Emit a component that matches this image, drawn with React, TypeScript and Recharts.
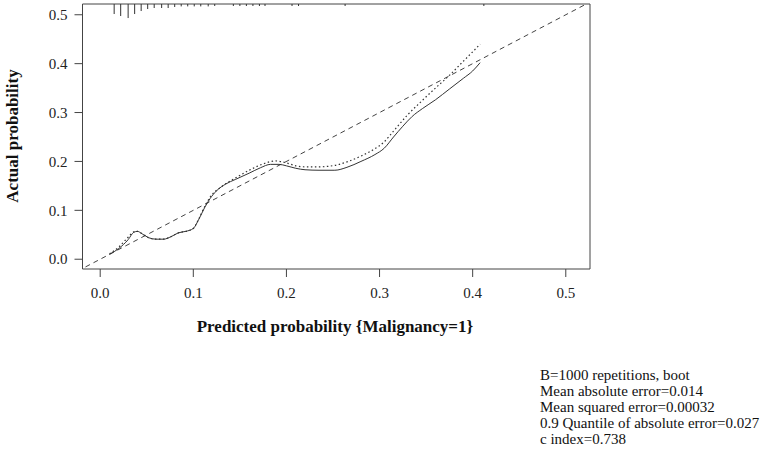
import React from 'react';
import { ComposedChart, Line, XAxis, YAxis, ReferenceLine, ReferenceArea } from 'recharts';

const serif = '"Liberation Serif", "Times New Roman", serif';

// axis ticks
const xTicks = [0, 0.1, 0.2, 0.3, 0.4, 0.5];
const yTicks = [0, 0.1, 0.2, 0.3, 0.4, 0.5];

// bias-corrected calibration curve (solid)
const biasCorrected = [
  { x: 0.010, y: 0.010 }, { x: 0.020, y: 0.022 }, { x: 0.030, y: 0.040 }, { x: 0.036, y: 0.055 },
  { x: 0.040, y: 0.057 }, { x: 0.045, y: 0.052 }, { x: 0.052, y: 0.044 }, { x: 0.060, y: 0.041 },
  { x: 0.068, y: 0.041 }, { x: 0.076, y: 0.046 }, { x: 0.084, y: 0.054 }, { x: 0.092, y: 0.057 },
  { x: 0.100, y: 0.063 }, { x: 0.106, y: 0.082 }, { x: 0.112, y: 0.105 }, { x: 0.118, y: 0.124 },
  { x: 0.125, y: 0.140 }, { x: 0.135, y: 0.154 }, { x: 0.145, y: 0.163 }, { x: 0.160, y: 0.176 },
  { x: 0.172, y: 0.187 }, { x: 0.183, y: 0.194 }, { x: 0.192, y: 0.194 }, { x: 0.200, y: 0.191 },
  { x: 0.210, y: 0.186 }, { x: 0.220, y: 0.183 }, { x: 0.235, y: 0.182 }, { x: 0.252, y: 0.182 },
  { x: 0.265, y: 0.188 }, { x: 0.280, y: 0.200 }, { x: 0.295, y: 0.214 }, { x: 0.305, y: 0.227 },
  { x: 0.315, y: 0.250 }, { x: 0.325, y: 0.272 }, { x: 0.335, y: 0.292 }, { x: 0.346, y: 0.308 },
  { x: 0.360, y: 0.326 }, { x: 0.375, y: 0.348 }, { x: 0.390, y: 0.370 }, { x: 0.400, y: 0.385 },
  { x: 0.408, y: 0.402 },
];

// apparent calibration curve (dotted)
const apparent = [
  { x: 0.010, y: 0.011 }, { x: 0.020, y: 0.025 }, { x: 0.030, y: 0.045 }, { x: 0.036, y: 0.056 },
  { x: 0.040, y: 0.057 }, { x: 0.045, y: 0.052 }, { x: 0.052, y: 0.044 }, { x: 0.060, y: 0.041 },
  { x: 0.068, y: 0.041 }, { x: 0.076, y: 0.046 }, { x: 0.084, y: 0.054 }, { x: 0.092, y: 0.057 },
  { x: 0.100, y: 0.063 }, { x: 0.106, y: 0.083 }, { x: 0.112, y: 0.107 }, { x: 0.118, y: 0.127 },
  { x: 0.130, y: 0.148 }, { x: 0.145, y: 0.166 }, { x: 0.160, y: 0.182 }, { x: 0.175, y: 0.195 },
  { x: 0.188, y: 0.201 }, { x: 0.200, y: 0.197 }, { x: 0.210, y: 0.191 }, { x: 0.220, y: 0.189 },
  { x: 0.235, y: 0.189 }, { x: 0.252, y: 0.192 }, { x: 0.265, y: 0.199 }, { x: 0.280, y: 0.211 },
  { x: 0.295, y: 0.226 }, { x: 0.305, y: 0.240 }, { x: 0.315, y: 0.262 }, { x: 0.330, y: 0.295 },
  { x: 0.345, y: 0.323 }, { x: 0.360, y: 0.350 }, { x: 0.375, y: 0.376 }, { x: 0.390, y: 0.405 },
  { x: 0.403, y: 0.430 }, { x: 0.408, y: 0.440 },
];

// ideal line
const ideal = [{ x: -0.05, y: -0.05 }, { x: 0.6, y: 0.6 }];

// rug of predicted probabilities along the top
const rugX = [
  0.015, 0.022, 0.030, 0.037, 0.044, 0.051, 0.058, 0.066, 0.073, 0.080, 0.087, 0.094, 0.101,
  0.108, 0.116, 0.123, 0.143, 0.150, 0.157, 0.164, 0.171, 0.177, 0.206, 0.213, 0.263, 0.412,
];
const rugFreq = [5, 6, 7, 5, 3.5, 2.5, 2, 2, 2, 1.5, 1.2, 1.2, 1.2, 1.2, 1.2, 1, 1, 1, 1, 1, 1, 1, 1, 1, 1, 1];

const stats = [
  'B=1000 repetitions, boot',
  'Mean absolute error=0.014',
  'Mean squared error=0.00032',
  '0.9 Quantile of absolute error=0.027',
  'c index=0.738',
];

const X_DOMAIN: [number, number] = [-0.019, 0.526];
const Y_DOMAIN: [number, number] = [-0.02, 0.522];
const RUG_UNIT = 0.0041;

const XTick = (props: any) => {
  const { x, y, payload } = props;
  return (
    <text x={x} y={y} dy="0.71em" textAnchor="middle" fontFamily={serif} fontSize={15} fill="#222">
      {Number(payload.value).toFixed(1)}
    </text>
  );
};

const YTick = (props: any) => {
  const { x, y, payload } = props;
  return (
    <text x={x} y={y} dy="0.35em" textAnchor="end" fontFamily={serif} fontSize={15} fill="#222">
      {Number(payload.value).toFixed(1)}
    </text>
  );
};

export default function App() {
  return (
    <div style={{ position: 'absolute', left: 0, top: 0, width: 760, height: 449, background: '#fff', fontFamily: serif }}>
      <ComposedChart width={760} height={449} margin={{ top: 4, right: 170, bottom: 140, left: 12.5 }}>
        <XAxis
          type="number"
          dataKey="x"
          domain={X_DOMAIN}
          ticks={xTicks}
          allowDataOverflow
          height={40}
          axisLine={false}
          tickSize={8}
          tickMargin={10}
          tickLine={{ stroke: '#444' }}
          tick={<XTick />}
        />
        <YAxis
          type="number"
          dataKey="y"
          domain={Y_DOMAIN}
          ticks={yTicks}
          allowDataOverflow
          width={70}
          axisLine={false}
          tickSize={8}
          tickMargin={7}
          tickLine={{ stroke: '#444' }}
          tick={<YTick />}
        />
        <ReferenceArea x1={X_DOMAIN[0]} x2={X_DOMAIN[1]} y1={Y_DOMAIN[0]} y2={Y_DOMAIN[1]} fill="none" stroke="#444" strokeWidth={1} />
        {rugX.map((x, i) => (
          <ReferenceLine
            key={`rug-${i}`}
            segment={[{ x, y: Y_DOMAIN[1] }, { x, y: Y_DOMAIN[1] - rugFreq[i] * RUG_UNIT }]}
            stroke="#333"
            strokeWidth={1}
          />
        ))}
        <Line data={ideal} dataKey="y" type="linear" stroke="#444" strokeWidth={1} strokeDasharray="5 4" dot={false} isAnimationActive={false} />
        <Line data={apparent} dataKey="y" type="monotone" stroke="#333" strokeWidth={1.2} strokeDasharray="1.5 2.5" dot={false} isAnimationActive={false} />
        <Line data={biasCorrected} dataKey="y" type="monotone" stroke="#333" strokeWidth={1} dot={false} isAnimationActive={false} />
      </ComposedChart>
      <svg width={760} height={449} style={{ position: 'absolute', left: 0, top: 0, pointerEvents: 'none' }}>
        <text
          x={0}
          y={0}
          transform="translate(12,136) rotate(-90)"
          textAnchor="middle"
          dominantBaseline="central"
          fontFamily={serif}
          fontWeight="bold"
          fontSize={17}
          fill="#111"
        >
          Actual probability
        </text>
        <text x={335} y={326} textAnchor="middle" dominantBaseline="central" fontFamily={serif} fontWeight="bold" fontSize={17} fill="#111">
          Predicted probability {'{'}Malignancy=1{'}'}
        </text>
        {stats.map((s, i) => (
          <text key={s} x={540} y={375 + i * 16} dominantBaseline="central" fontFamily={serif} fontSize={15} fill="#111">
            {s}
          </text>
        ))}
      </svg>
    </div>
  );
}
